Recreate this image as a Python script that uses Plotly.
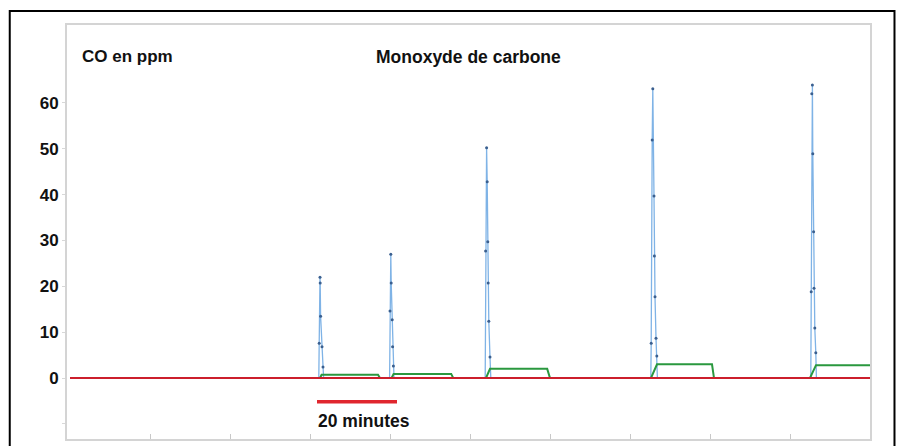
import plotly.graph_objects as go

# ---- data (time in minutes, CO in ppm) ----
co_pic1_t = [62.2, 62.3, 62.5, 62.55, 62.65, 63.0, 63.25, 63.4]
co_pic1_v = [0, 7.6, 22.0, 20.7, 13.5, 6.8, 2.4, 0]
co_pic2_t = [79.9, 80.0, 80.2, 80.3, 80.55, 80.65, 80.85, 81.0]
co_pic2_v = [0, 14.6, 27.0, 20.7, 12.7, 6.8, 2.6, 0]
co_pic3_t = [103.8, 103.9, 104.15, 104.3, 104.45, 104.55, 104.7, 105.0, 105.2]
co_pic3_v = [0, 27.7, 50.2, 42.8, 29.7, 20.7, 12.4, 4.6, 0]
co_pic4_t = [145.2, 145.3, 145.55, 145.7, 146.0, 146.1, 146.25, 146.5, 146.7, 146.85]
co_pic4_v = [0, 7.6, 51.9, 63.1, 39.7, 26.6, 17.7, 8.7, 4.8, 0]
co_pic5_t = [185.2, 185.3, 185.45, 185.6, 185.7, 185.9, 186.0, 186.2, 186.45, 186.6]
co_pic5_v = [0, 18.8, 62.0, 63.9, 48.9, 31.9, 19.6, 10.9, 5.5, 0]

green_t = [0, 62.5, 62.9, 77.0, 77.5, 80.4, 80.9, 95.3, 95.8,
           104.0, 105.0, 119.3, 120.0, 145.25, 146.75, 160.5, 161.0,
           185.0, 186.5, 200]
green_v = [0, 0, 0.7, 0.7, 0, 0, 0.9, 0.9, 0,
           0, 2.0, 2.0, 0, 0, 3.0, 3.0, 0,
           0, 2.8, 2.8]

red_t = [0, 200]
red_v = [0, 0]

y_ticks = [-10, 0, 10, 20, 30, 40, 50, 60]
y_labels = ["", "0", "10", "20", "30", "40", "50", "60"]
x_ticks = [20, 40, 60, 80, 100, 120, 140, 160, 180]

scale_start = 61.75
scale_minutes = 20
scale_y = -5.2
scale_text_y = -9.3

# ---- build blue series ----
pics_t = [co_pic1_t, co_pic2_t, co_pic3_t, co_pic4_t, co_pic5_t]
pics_v = [co_pic1_v, co_pic2_v, co_pic3_v, co_pic4_v, co_pic5_v]
blue_t, blue_v = [0], [0]
mk_t, mk_v = [], []
for ts, vs in zip(pics_t, pics_v):
    blue_t += ts
    blue_v += vs
    for t, v in zip(ts, vs):
        if v > 0:
            mk_t.append(t)
            mk_v.append(v)
blue_t.append(200)
blue_v.append(0)

FONT = "Liberation Sans, Arial, sans-serif"

fig = go.Figure()
fig.add_trace(go.Scatter(x=blue_t, y=blue_v, mode="lines",
                         line=dict(color="#7fb3e6", width=1.3), hoverinfo="skip"))
fig.add_trace(go.Scatter(x=mk_t, y=mk_v, mode="markers",
                         marker=dict(color="#3a5f8f", size=3), hoverinfo="skip"))
fig.add_trace(go.Scatter(x=green_t, y=green_v, mode="lines",
                         line=dict(color="#2a983f", width=2), hoverinfo="skip"))
fig.add_trace(go.Scatter(x=red_t, y=red_v, mode="lines",
                         line=dict(color="#cc1f2c", width=2.2), hoverinfo="skip"))

# scale bar
fig.add_shape(type="line", xref="x", yref="y",
              x0=scale_start, x1=scale_start + scale_minutes, y0=scale_y, y1=scale_y,
              line=dict(color="#e0262e", width=3.5))
fig.add_annotation(x=scale_start - 0.3, y=scale_text_y, xref="x", yref="y",
                   text="<b>20 minutes</b>", showarrow=False, xanchor="left",
                   font=dict(family=FONT, size=17.5, color="#111"))

fig.add_annotation(x=0.016, y=0.952, xref="paper", yref="paper",
                   text="<b>CO en ppm</b>", showarrow=False, xanchor="left",
                   font=dict(family=FONT, size=17, color="#111"))
fig.add_annotation(x=0.5, y=0.952, xref="paper", yref="paper",
                   text="<b>Monoxyde de carbone</b>", showarrow=False, xanchor="center",
                   font=dict(family=FONT, size=17.5, color="#111"))

# outer black frame
fig.add_shape(type="rect", xref="paper", yref="paper",
              x0=-0.0713, x1=1.0305, y0=-0.03, y1=1.034,
              line=dict(color="black", width=2), fillcolor="rgba(0,0,0,0)")

fig.update_layout(
    width=897, height=446,
    margin=dict(l=67, r=27, t=25, b=7),
    paper_bgcolor="white", plot_bgcolor="white",
    showlegend=False,
    xaxis=dict(range=[-0.75, 200], showgrid=False, zeroline=False,
               showline=True, mirror=True, linecolor="#d4d4d4", linewidth=2,
               tickvals=x_ticks, ticks="inside", ticklen=5, tickcolor="#c8c8c8",
               showticklabels=False),
    yaxis=dict(range=[-13.3, 77.0], showgrid=False, zeroline=False,
               showline=True, mirror=True, linecolor="#d4d4d4", linewidth=2,
               tickvals=y_ticks, ticktext=y_labels, ticks="outside", ticklen=3,
               tickcolor="#d8d8d8",
               tickfont=dict(family=FONT, size=17, color="#111", weight="bold")),
)

fig.write_html("out.html", config={"displayModeBar": False},
               post_script="document.body.style.margin='0';document.body.style.overflow='hidden';")
